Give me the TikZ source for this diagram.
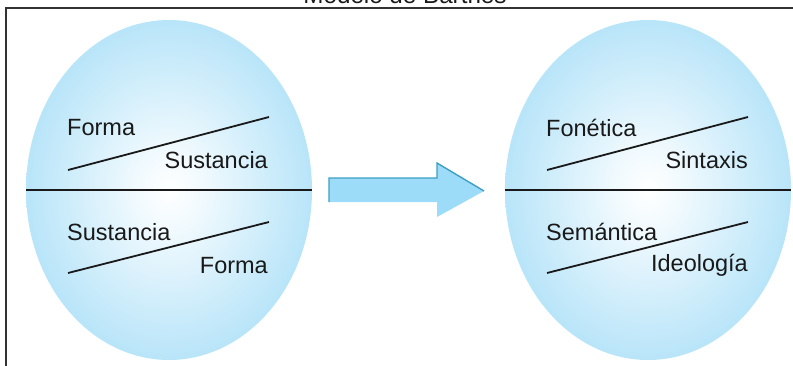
\documentclass[tikz,border=0pt]{standalone}
\usepackage{fontspec}
\setmainfont{Liberation Sans}
\usepackage{tikz}
\usetikzlibrary{shapes.geometric,calc}
\usepackage{xcolor}
\definecolor{eggblue}{RGB}{156,218,246}
\definecolor{arrowblue}{RGB}{157,220,248}
\definecolor{edgeblue}{RGB}{62,158,196}
\definecolor{framegray}{RGB}{50,50,50}
\pgfdeclareradialshading{eggglow}{\pgfpoint{0bp}{0bp}}{%
  color(0bp)=(white); color(5bp)=(eggblue!12); color(17bp)=(eggblue!48);
  color(28bp)=(eggblue!80); color(35bp)=(eggblue); color(50bp)=(eggblue)}

\begin{document}
\begin{tikzpicture}[x=1pt, y=-1pt,
    egg/.style={ellipse, minimum width=286pt, minimum height=340pt, inner sep=0pt, shading=eggglow},
    term/.style={inner sep=0pt, font=\fontsize{23.5}{28}\selectfont, text=black!90},
    divider/.style={line width=2.4pt, black!90},
    slash/.style={line width=1.8pt, black!90},
]
    \useasboundingbox (0,0) rectangle (793,365);

    % Title and frame
    \node[term, font=\fontsize{24.2}{28}\selectfont, anchor=base] (title) at (405,3) {Modelo de Barthes};
    \draw[framegray, line width=1.3pt] (6,375) -- (6,8) -- (805,8);

    % Ellipses
    \node[egg] (left) at (169,190) {};
    \node[egg] (right) at (648,190) {};

    % Dividers
    \foreach \e in {left, right} {
        \draw[divider] (\e.west) -- (\e.east);
        \draw[slash] ($(\e.center)+(-101,-20)$) -- ($(\e.center)+(100,-73)$);
        \draw[slash] ($(\e.center)+(-101,83)$) -- ($(\e.center)+(100,32)$);
    }

    % Labels, left
    \node[term, anchor=base west] (forma1) at ($(left.center)+(-102,-55)$) {Forma};
    \node[term, anchor=base east] (sust1) at ($(left.center)+(99,-22)$) {Sustancia};
    \node[term, anchor=base west] (sust2) at ($(left.center)+(-102,50)$) {Sustancia};
    \node[term, anchor=base east] (forma2) at ($(left.center)+(99,83)$) {Forma};

    % Labels, right
    \node[term, anchor=base west] (fon) at ($(right.center)+(-102,-54)$) {Fonética};
    \node[term, anchor=base east] (sint) at ($(right.center)+(100,-22)$) {Sintaxis};
    \node[term, anchor=base west] (sem) at ($(right.center)+(-102,50)$) {Semántica};
    \node[term, anchor=base east] (ideo) at ($(right.center)+(100,81)$) {Ideología};

    % Arrow
    \fill[arrowblue] (329,178) -- (437,178) -- (437,163) -- (484,191) -- (437,217) -- (437,202) -- (329,202) -- cycle;
    \draw[edgeblue, line width=1.4pt] (329,202) -- (329,178) -- (437,178) -- (437,163) -- (484,191);
\end{tikzpicture}
\end{document}
